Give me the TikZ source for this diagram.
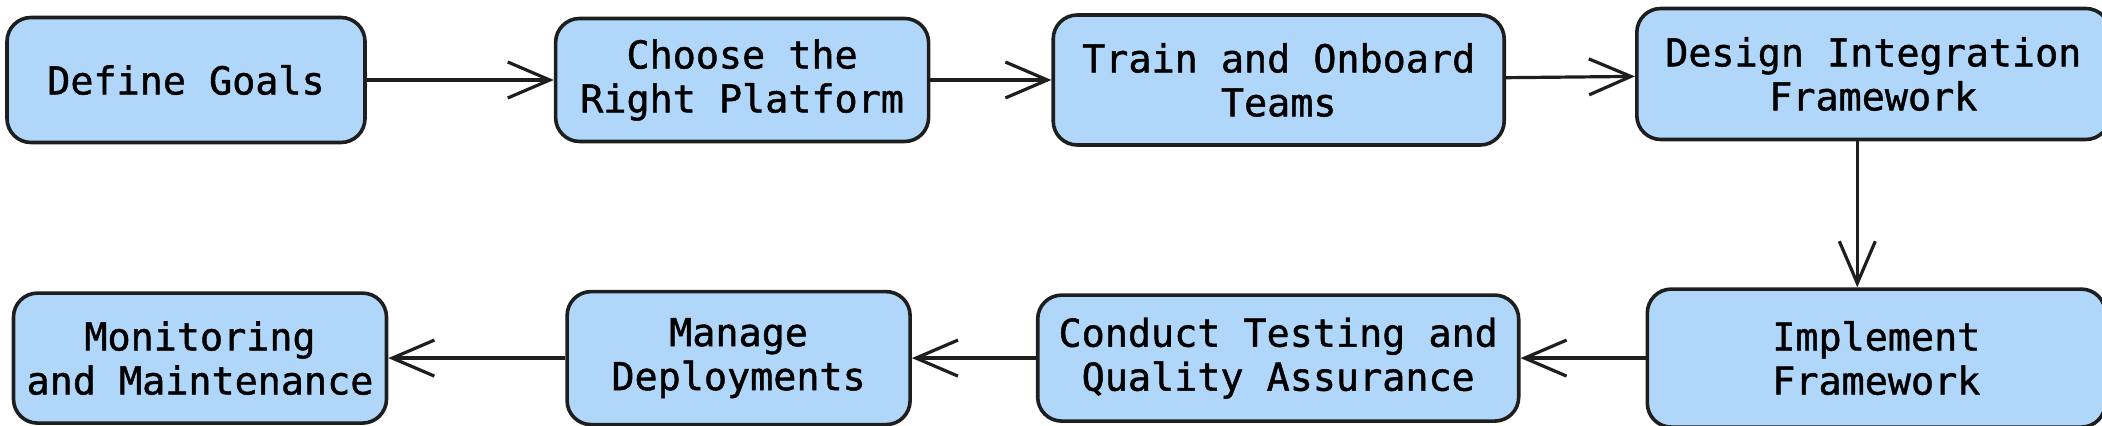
\documentclass[tikz,border=0pt]{standalone}
\usepackage{fontspec}
\newfontfamily\boxfont[FakeBold=1.2]{DejaVu Sans Mono}
\usetikzlibrary{arrows.meta,positioning}
\definecolor{boxblue}{RGB}{176,215,249}
\definecolor{ink}{RGB}{30,30,30}

\begin{document}
\begin{tikzpicture}[
  box/.style={draw=ink, line width=1.8pt, rounded corners=12pt, fill=boxblue, align=center, inner sep=0pt, font=\boxfont\fontsize{19.2}{22}\selectfont},
  ar/.style={-{Straight Barb[length=21pt,width=18pt]}, line width=1.6pt, draw=ink}]

\useasboundingbox (0,0) rectangle (1051pt,-213pt);

% top row
\node[box, minimum width=179pt, minimum height=62.5pt] (g) at (93pt,-40pt) {Define Goals};
\node[box, minimum width=186.5pt, minimum height=61.5pt, right=93.5pt of g] (p) {Choose the\\Right Platform};
\node[box, minimum width=225.5pt, minimum height=65pt, right=60.5pt of p] (t) {Train and Onboard\\Teams};
\node[box, minimum width=236.5pt, minimum height=65.5pt, right=64.5pt of t, yshift=3pt] (d) {Design Integration\\Framework};

% bottom row, right to left
\node[box, minimum width=229pt, minimum height=69pt, below=73pt of d, xshift=1.5pt] (f) {Implement\\Framework};
\node[box, minimum width=240.5pt, minimum height=63pt, left=62.5pt of f] (q) {Conduct Testing and\\Quality Assurance};
\node[box, minimum width=171.5pt, minimum height=66.5pt, left=62pt of q] (m) {Manage\\Deployments};
\node[box, minimum width=186.5pt, minimum height=65pt, left=88.5pt of m] (o) {Monitoring\\and Maintenance};

\draw[ar] (g) -- (p);
\draw[ar] (p) -- (t);
\draw[ar] (t) -- (d);
\draw[ar] ([xshift=-8pt]d.south) -- ([xshift=-8pt]d.south |- f.north);
\draw[ar] (f) -- (q);
\draw[ar] (q) -- (m);
\draw[ar] (m) -- (o);
\end{tikzpicture}
\end{document}
